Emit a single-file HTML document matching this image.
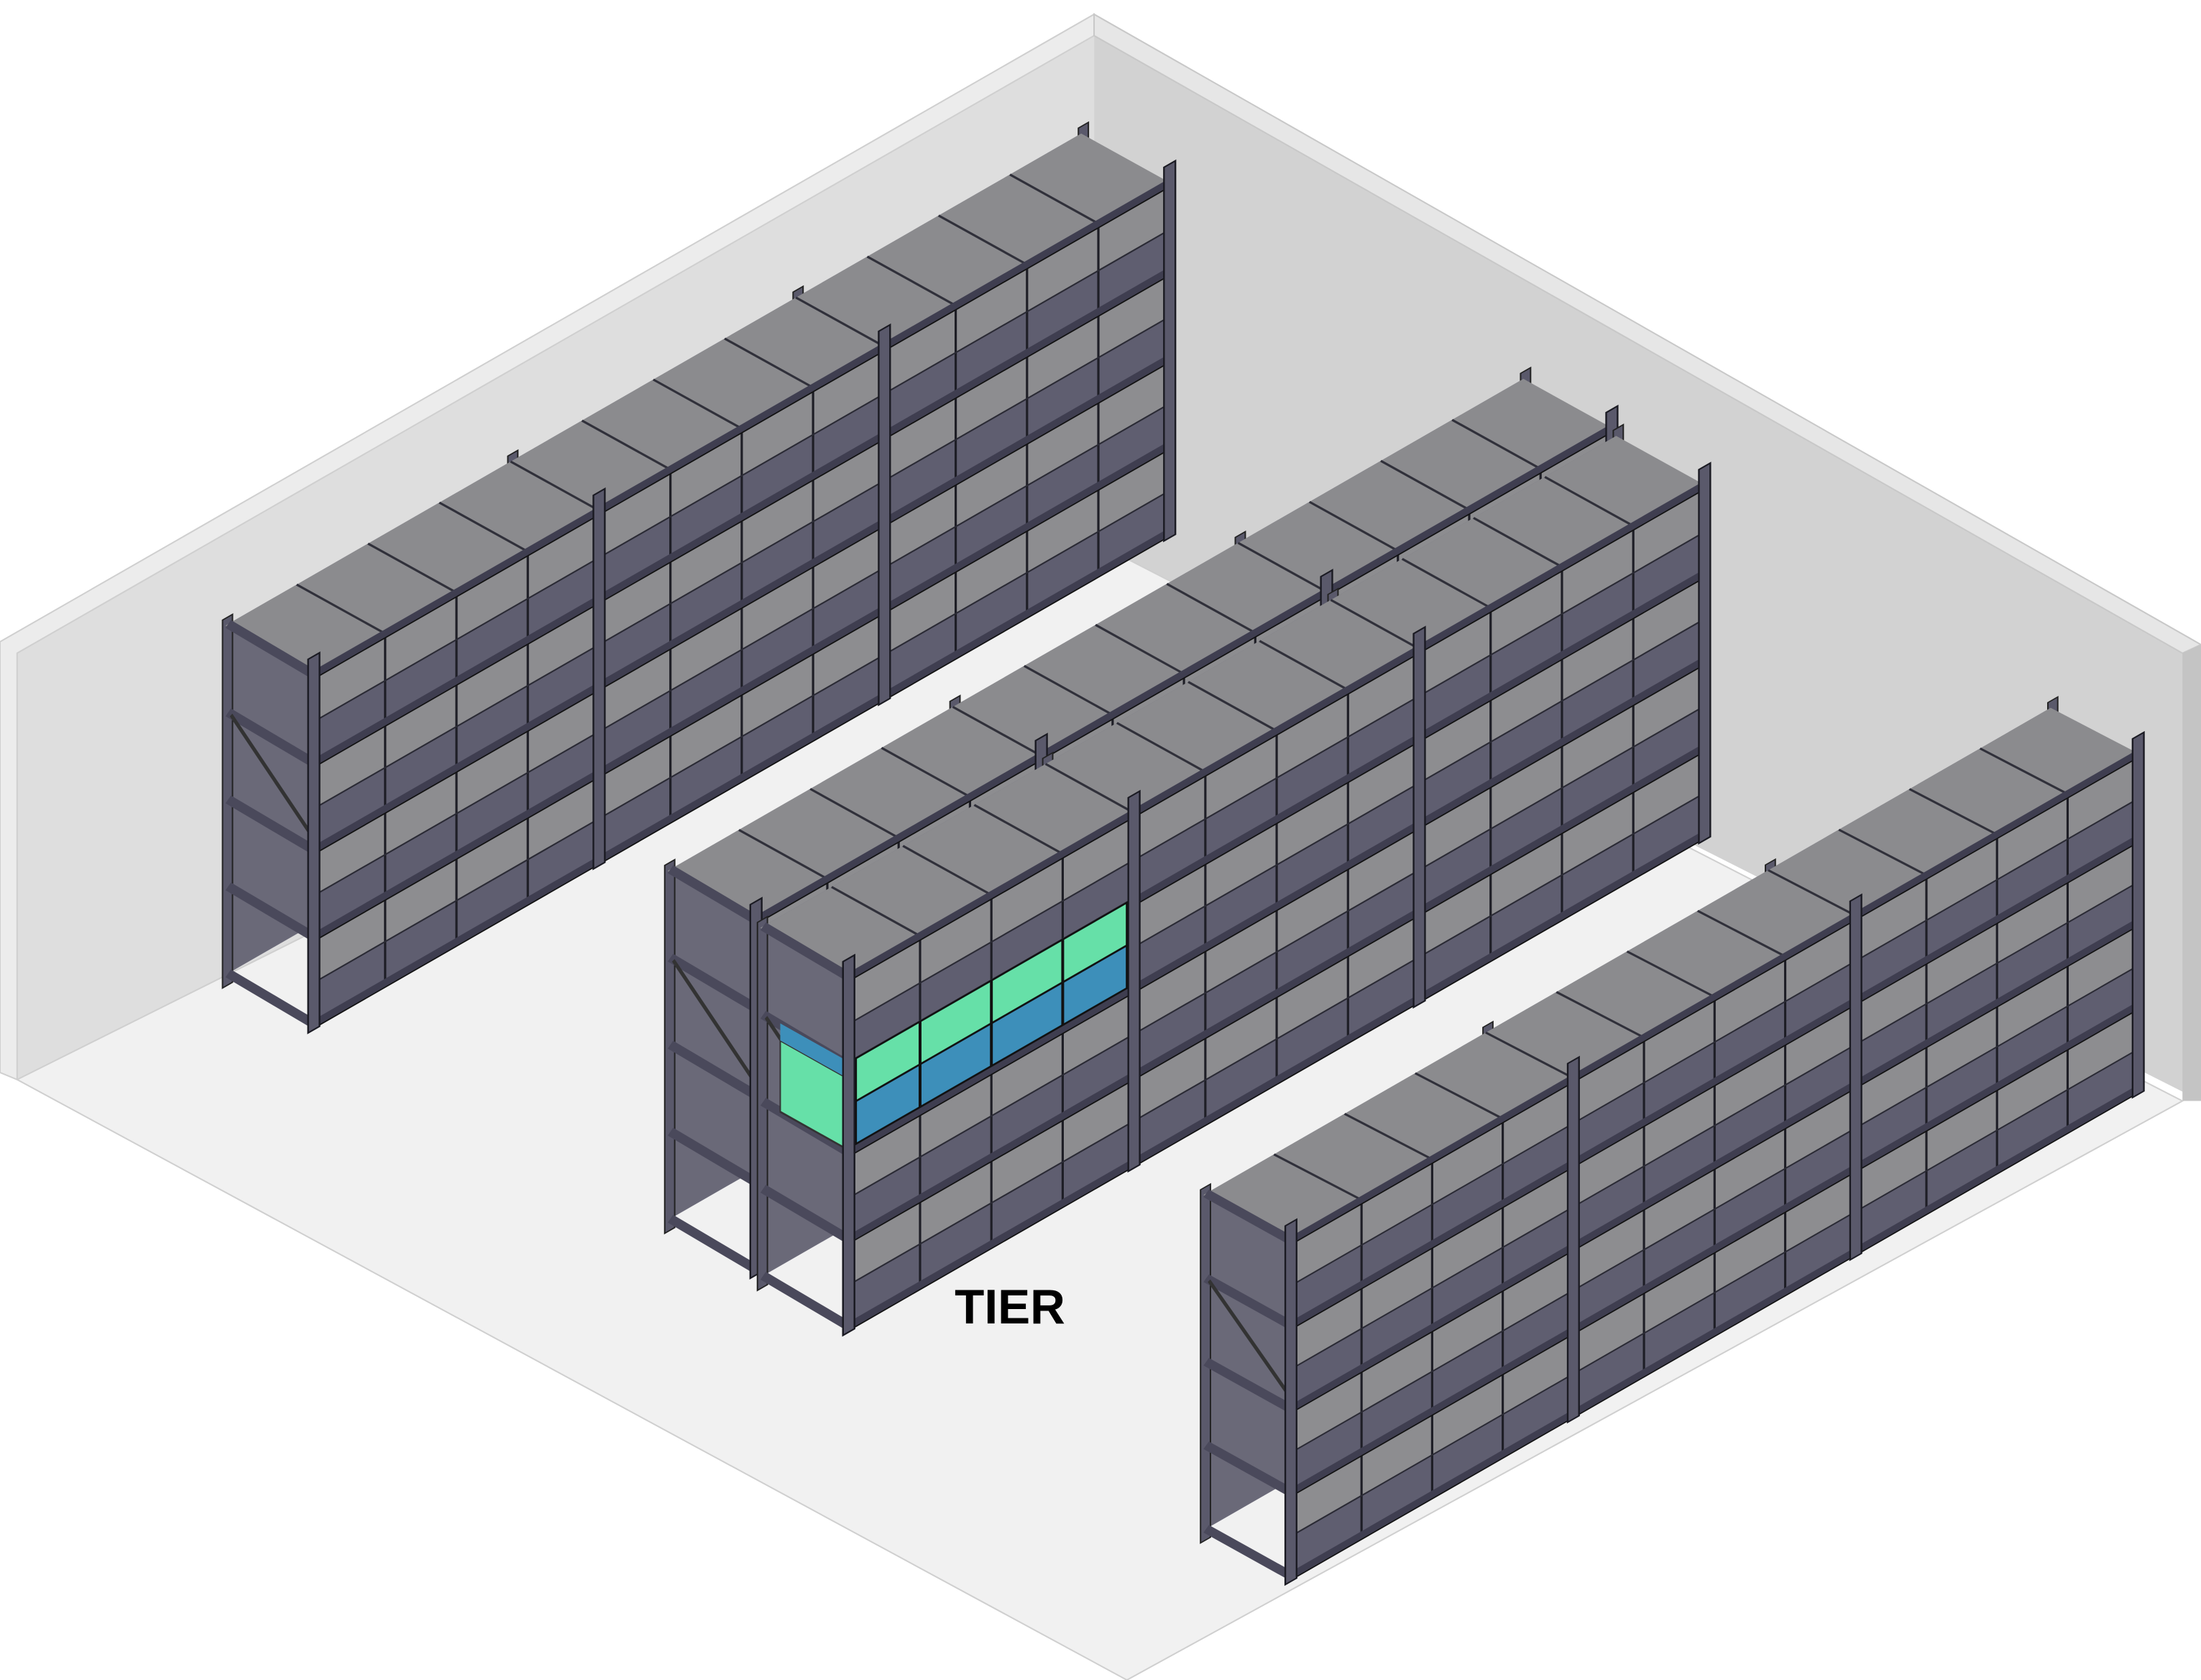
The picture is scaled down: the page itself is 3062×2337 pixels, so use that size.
<!DOCTYPE html>
<html><head><meta charset="utf-8"><style>html,body{margin:0;padding:0;background:#fff}svg{display:block}</style></head>
<body>
<svg width="3062" height="2337" viewBox="0 0 1543 1178" preserveAspectRatio="none" xmlns="http://www.w3.org/2000/svg">
<defs>
<g id="lvl">
  <rect x="0" y="-61" width="600" height="61" fill="#8d8d90"/>
  <rect x="0" y="-28" width="600" height="28" fill="#5f5e70"/>
  <path d="M50,-61V0M100,-61V0M150,-61V0M200,-61V0M250,-61V0M300,-61V0M350,-61V0M400,-61V0M450,-61V0M500,-61V0M550,-61V0" stroke="#1e1e26" stroke-width="1.6"/>
  <path d="M0,-28H600" stroke="#2a2a34" stroke-width="1.2"/>
</g>
<g id="rack">
  <rect x="-62" y="-315" width="600" height="245" fill="#6a6978"/>
  <rect x="-64" y="-320" width="7" height="258" fill="#5a596b" stroke="#222" stroke-width="1"/>
  <rect x="136" y="-320" width="7" height="258" fill="#5a596b" stroke="#222" stroke-width="1"/>
  <rect x="336" y="-320" width="7" height="258" fill="#5a596b" stroke="#222" stroke-width="1"/>
  <rect x="536" y="-320" width="7" height="258" fill="#5a596b" stroke="#222" stroke-width="1"/>
  <polygon points="0,-245 600,-245 538,-315 -62,-315" fill="#8b8b8e"/>
  <path d="M50,-245l-62,-70M100,-245l-62,-70M150,-245l-62,-70M200,-245l-62,-70M250,-245l-62,-70M300,-245l-62,-70M350,-245l-62,-70M400,-245l-62,-70M450,-245l-62,-70M500,-245l-62,-70M550,-245l-62,-70" stroke="#30303a" stroke-width="1.2"/>
  <use href="#lvl" transform="translate(0,-184)"/>
  <use href="#lvl" transform="translate(0,-123)"/>
  <use href="#lvl" transform="translate(0,-62)"/>
  <use href="#lvl" transform="translate(0,-1)"/>
  <path d="M0,0H600M0,-61H600M0,-122H600M0,-183H600M0,-245H600" stroke="#3f3e50" stroke-width="6"/>
  <path d="M0,0H600M0,-61H600M0,-122H600M0,-183H600M0,-245H600" stroke="#111" stroke-width="1" transform="translate(0,3)"/>
  <path d="M-60,-70L0,-0M-60,-131L0,-61M-60,-192L0,-122M-60,-253L0,-183M-60,-315L0,-245" stroke="#4a495b" stroke-width="5"/>
  <path d="M-58,-250L0,-130" stroke="#333" stroke-width="2"/>
  <rect x="-4" y="-258" width="8" height="262" fill="#5a596b" stroke="#1a1a22" stroke-width="1.2"/>
  <rect x="196" y="-258" width="8" height="262" fill="#5a596b" stroke="#1a1a22" stroke-width="1.2"/>
  <rect x="396" y="-258" width="8" height="262" fill="#5a596b" stroke="#1a1a22" stroke-width="1.2"/>
  <rect x="596" y="-258" width="8" height="262" fill="#5a596b" stroke="#1a1a22" stroke-width="1.2"/>
</g>
</defs>
<rect width="1543" height="1178" fill="#fff"/>
<polygon points="0,450 767,10 767,380 12,757 0,752" fill="#dedede"/>
<polygon points="0,450 767,10 767,25 12,458 12,757 0,752" fill="#ececec" stroke="#cfcfcf" stroke-width="1"/>
<polygon points="767,10 1543,452 1543,772 767,380" fill="#d2d2d2"/>
<polygon points="767,10 1543,452 1530,458 767,25" fill="#e6e6e6" stroke="#c8c8c8" stroke-width="1"/>
<polygon points="1530,458 1543,452 1543,772 1530,772" fill="#c4c4c4"/>
<polygon points="12,757 767,380 1530,772 790,1178" fill="#f1f1f1" stroke="#cfcfcf" stroke-width="1"/>
<use href="#rack" transform="matrix(1,-0.575,0,1,220,718)"/>
<use href="#rack" transform="matrix(1,-0.575,0,1,530,890)"/>
<use href="#rack" transform="matrix(1,-0.575,0,1,595,930)"/>
<g transform="matrix(1,-0.575,0,1,595,930)">
  <rect x="5" y="-155" width="190" height="30" fill="#3d8fba" stroke="#111" stroke-width="1.5"/>
  <rect x="5" y="-185" width="190" height="30" fill="#66e0a8" stroke="#111" stroke-width="1.5"/>
  <path d="M50,-185V-125M100,-185V-125M150,-185V-125" stroke="#111" stroke-width="2"/>
  <polygon points="-4,-178 -4,-128 -48,-178 -48,-228" fill="#66e0a8" stroke="#333" stroke-width="1"/>
  <polygon points="-4,-190 -4,-178 -48,-228 -48,-240" fill="#3d8fba"/>
  <rect x="-4" y="-258" width="8" height="262" fill="#5a596b" stroke="#1a1a22" stroke-width="1.2"/>
</g>
<use href="#rack" transform="matrix(1,-0.575,0,1,905,1105) scale(0.99,0.96)"/>
<text x="708" y="928" font-family="Liberation Sans, sans-serif" font-weight="bold" font-size="34" text-anchor="middle" fill="#000">TIER</text>
</svg>
</body></html>
